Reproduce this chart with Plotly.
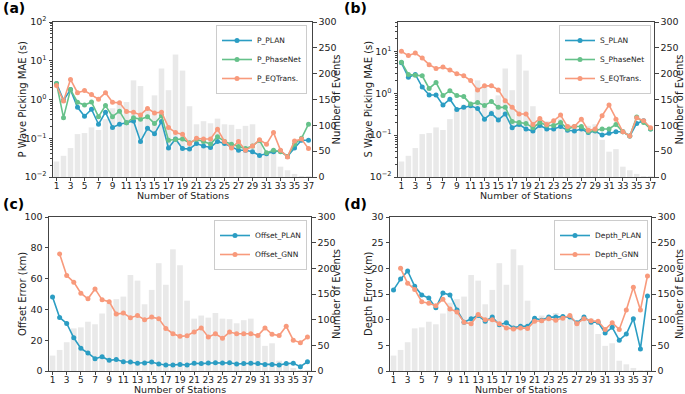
import plotly.graph_objects as go

# ---------------- data ----------------
stations = list(range(1, 38))
n_events = [30, 41, 56, 83, 85, 96, 91, 112, 133, 140, 145, 187, 176, 130, 158, 210, 168,
            237, 206, 137, 102, 108, 104, 113, 102, 101, 93, 99, 102, 72, 49, 54, 20, 13, 6, 1, 1]

p_plan = [2.6, 0.95, 1.8, 0.63, 0.37, 0.56, 0.23, 0.47, 0.19, 0.23, 0.25, 0.28, 0.083, 0.18, 0.13,
          0.27, 0.056, 0.096, 0.054, 0.053, 0.073, 0.063, 0.058, 0.083, 0.073, 0.061, 0.049, 0.049,
          0.045, 0.036, 0.04, 0.045, 0.047, 0.034, 0.056, 0.089, 0.089]
p_phasenet = [2.6, 0.34, 1.8, 0.85, 0.72, 0.86, 0.36, 0.7, 0.36, 0.5, 0.25, 0.34, 0.31, 0.36, 0.24,
              0.38, 0.089, 0.093, 0.096, 0.076, 0.093, 0.082, 0.071, 0.11, 0.083, 0.07, 0.061, 0.054,
              0.063, 0.088, 0.042, 0.049, 0.045, 0.034, 0.07, 0.1, 0.23]
p_eqtrans = [2.3, 0.91, 3.3, 1.5, 1.7, 1.35, 1.02, 1.5, 0.85, 0.82, 0.49, 0.47, 0.4, 0.59, 0.45,
             0.47, 0.19, 0.14, 0.126, 0.073, 0.1, 0.096, 0.096, 0.17, 0.083, 0.056, 0.082, 0.049,
             0.063, 0.091, 0.07, 0.14, 0.049, 0.033, 0.085, 0.095, 0.054]

s_plan = [5.3, 2.4, 2.8, 1.4, 0.91, 0.91, 0.52, 0.72, 0.41, 0.46, 0.5, 0.43, 0.24, 0.33, 0.23,
          0.32, 0.15, 0.18, 0.14, 0.125, 0.17, 0.14, 0.14, 0.16, 0.13, 0.125, 0.14, 0.115, 0.125,
          0.1, 0.11, 0.12, 0.12, 0.095, 0.19, 0.22, 0.14]
s_phasenet = [5.5, 2.8, 2.7, 2.6, 1.3, 1.8, 0.88, 1.15, 0.88, 0.83, 0.55, 0.6, 0.51, 0.63, 0.46,
              0.46, 0.21, 0.2, 0.19, 0.15, 0.2, 0.17, 0.17, 0.2, 0.14, 0.16, 0.16, 0.12, 0.13,
              0.14, 0.14, 0.18, 0.12, 0.095, 0.27, 0.2, 0.14]
s_eqtrans = [10, 7.9, 9.1, 6.9, 4.8, 3.9, 4.2, 3.6, 2.9, 2.6, 2.0, 1.2, 1.5, 1.5, 1.2, 0.66, 0.46,
             0.32, 0.32, 0.18, 0.25, 0.18, 0.22, 0.3, 0.16, 0.16, 0.24, 0.13, 0.14, 0.29, 0.52,
             0.24, 0.12, 0.095, 0.26, 0.22, 0.15]

offset_plan = [48, 34.8, 30.9, 21.6, 14.7, 11.7, 8, 9.3, 6.9, 7.5, 6, 5.8, 5, 5.2, 5.8, 4.5, 3.9,
               3.9, 4.3, 3.9, 5, 4.8, 5.2, 5.4, 5.2, 5.4, 4.5, 4.8, 5, 4.8, 4.3, 4.3, 3.9, 4.8, 5,
               2.8, 6]
offset_gnn = [None, 76, 62, 57.7, 50.5, 46.9, 53.3, 46.2, 45, 37, 37.6, 34.6, 36, 33.3, 35, 34,
              27.6, 24.2, 22.5, 22.9, 25.3, 28, 22, 24.2, 21.2, 25.3, 24.2, 24.2, 24.2, 23, 28,
              23.8, 23, 29, 20, 18.4, 22]

depth_plan = [15.8, 17.9, 19.5, 16.5, 14.8, 14.2, 12.3, 15.2, 14.8, 11.9, 9.5, 10.2, 10.8, 9.7,
              10.5, 9.0, 9.4, 8.4, 8.7, 8.7, 10.3, 9.9, 10.5, 10.5, 10.6, 10.5, 9.4, 10.5, 9.5,
              9.5, 7.4, 8.5, 6.0, 7.2, 10.2, 4.3, 14.6]
depth_gnn = [None, 20, 17.1, 15.9, 13.5, 13.2, 12.7, 14.0, 12.1, 11.5, 9.5, 9.2, 11.0, 10.0, 10.0,
             9.2, 8.4, 8.2, 8.4, 8.3, 9.7, 9.8, 10.2, 9.9, 10.3, 10.8, 9.2, 10.2, 9.8, 9.7, 8.1,
             9.4, 8.1, 11.9, 16.3, 11.9, 18.5]

x_ticks = list(range(1, 38, 2))
event_ticks = [0, 50, 100, 150, 200, 250, 300]
log_ticks = [0.01, 0.1, 1, 10, 100]
log_ticktext = ["10<sup>\u22122</sup>", "10<sup>\u22121</sup>", "10<sup>0</sup>",
                "10<sup>1</sup>", "10<sup>2</sup>"]

# ---------------- style ----------------
C_PLAN = "#2b9dc3"
C_PN = "#66c18a"
C_EQ = "#f89a7c"
BAR = "#e9e9e9"
AX = "#444444"
FONT = "DejaVu Sans"
W, H = 685, 394
TICK = 9.5


def fx(p):
    return p / W


def fy(p):
    return 1 - p / H


panels = [
    dict(label="(a)", labx=1, laby=8, xd=(53, 312), yd=(22, 177), lx=22, rx=336,
         ylab="P Wave Picking MAE (s)",
         series=[("P_PLAN", p_plan, C_PLAN), ("P_PhaseNet", p_phasenet, C_PN),
                 ("P_EQTrans.", p_eqtrans, C_EQ)],
         log=True, yrange=[-2, 2], legx=307, legy=25, xt=195),
    dict(label="(b)", labx=342, laby=8, xd=(398, 654), yd=(22, 177), lx=368, rx=679,
         ylab="S Wave Picking MAE (s)",
         series=[("S_PLAN", s_plan, C_PLAN), ("S_PhaseNet", s_phasenet, C_PN),
                 ("S_EQTrans.", s_eqtrans, C_EQ)],
         log=True, yrange=[-2, 1.7], legx=651, legy=25, xt=195),
    dict(label="(c)", labx=1, laby=204, xd=(49, 311), yd=(217, 371), lx=22, rx=336,
         ylab="Offset Error (km)",
         series=[("Offset_PLAN", offset_plan, C_PLAN), ("Offset_GNN", offset_gnn, C_EQ)],
         log=False, yrange=[0, 100], yticks=[0, 20, 40, 60, 80, 100], legx=307, legy=220,
         xt=389.5),
    dict(label="(d)", labx=342, laby=204, xd=(390, 651), yd=(217, 371), lx=368, rx=679,
         ylab="Depth Error (km)",
         series=[("Depth_PLAN", depth_plan, C_PLAN), ("Depth_GNN", depth_gnn, C_EQ)],
         log=False, yrange=[0, 30], yticks=[0, 5, 10, 15, 20, 25, 30], legx=648, legy=220,
         xt=389.5),
]

fig = go.Figure()
layout = dict(
    width=W, height=H, margin=dict(l=0, r=0, t=0, b=0, pad=0),
    paper_bgcolor="white", plot_bgcolor="white",
    font=dict(family=FONT, size=10, color="#222"),
    bargap=0.2, template="none", annotations=[],
)

for i, p in enumerate(panels):
    xs = "" if i == 0 else str(i + 1)
    yb = str(2 * i + 1) if i > 0 else ""
    yl = str(2 * i + 2)
    leg = "legend" if i == 0 else f"legend{i + 1}"

    fig.add_trace(go.Bar(x=stations, y=n_events, marker=dict(color=BAR, line=dict(width=0)),
                         xaxis="x" + xs, yaxis="y" + yb, showlegend=False, hoverinfo="skip"))
    for name, vals, col in p["series"]:
        fig.add_trace(go.Scatter(x=stations, y=vals, name=name, mode="lines+markers",
                                 line=dict(color=col, width=1.6),
                                 marker=dict(color=col, size=5),
                                 xaxis="x" + xs, yaxis="y" + yl, legend=leg))

    xdom = [fx(p["xd"][0]), fx(p["xd"][1])]
    ydom = [fy(p["yd"][1]), fy(p["yd"][0])]

    layout["xaxis" + xs] = dict(
        domain=xdom, anchor="y" + yb, range=[0.5, 37.5], tickvals=x_ticks, tickangle=0,
        ticks="outside", ticklen=3, tickcolor=AX, showline=True, mirror=True,
        linecolor=AX, linewidth=1, showgrid=False, zeroline=False, automargin=False,
        ticklabelstandoff=-3, tickfont=dict(size=9))
    layout["yaxis" + yb] = dict(
        domain=ydom, anchor="x" + xs, side="right", range=[0, 300], tickvals=event_ticks,
        ticks="outside", ticklen=3.5, tickcolor=AX, showline=True, linecolor=AX, linewidth=1,
        showgrid=False, zeroline=False, automargin=False, tickfont=dict(size=TICK))
    ly = dict(
        domain=ydom, anchor="x" + xs, overlaying="y" + yb, side="left", range=p["yrange"],
        ticks="outside", ticklen=3.5, tickcolor=AX, showline=True, linecolor=AX, linewidth=1,
        showgrid=False, zeroline=False, automargin=False, tickfont=dict(size=TICK))
    if p["log"]:
        ly.update(type="log", tickvals=log_ticks, ticktext=log_ticktext,
                  minor=dict(ticks="outside", ticklen=2, tickcolor=AX, showgrid=False,
                             tickvals=[m * 10.0 ** e for e in range(-2, 2) for m in range(2, 10)]))
    else:
        ly.update(tickvals=p["yticks"])
    layout["yaxis" + yl] = ly

    layout[leg] = dict(
        x=fx(p["legx"]), y=fy(p["legy"]), xanchor="right", yanchor="top",
        bgcolor="rgba(255,255,255,0.85)", bordercolor="#cccccc", borderwidth=1,
        font=dict(size=7.5, family=FONT), tracegroupgap=0, itemwidth=30)

    cx = (p["xd"][0] + p["xd"][1]) / 2
    cy = (p["yd"][0] + p["yd"][1]) / 2
    ann = layout["annotations"]
    ann.append(dict(text=p["label"], x=fx(p["labx"]), y=fy(p["laby"]),
                    xref="paper", yref="paper", xanchor="left", yanchor="middle", showarrow=False,
                    font=dict(size=14, family=FONT, color="black", weight="bold")))
    ann.append(dict(text=p["ylab"], x=fx(p["lx"]), y=fy(cy), xref="paper", yref="paper",
                    textangle=-90, showarrow=False, xanchor="center", yanchor="middle",
                    font=dict(size=10, family=FONT)))
    ann.append(dict(text="Number of Events", x=fx(p["rx"]), y=fy(cy), xref="paper", yref="paper",
                    textangle=-90, showarrow=False, xanchor="center", yanchor="middle",
                    font=dict(size=10, family=FONT)))
    ann.append(dict(text="Number of Stations", x=fx(cx), y=fy(p["xt"]), xref="paper",
                    yref="paper", showarrow=False, xanchor="center", yanchor="middle",
                    font=dict(size=9.5, family=FONT)))

fig.update_layout(**layout)
fig.write_html("out.html", config={"displayModeBar": False},
               post_script="document.body.style.margin='0';document.body.style.overflow='hidden';")
